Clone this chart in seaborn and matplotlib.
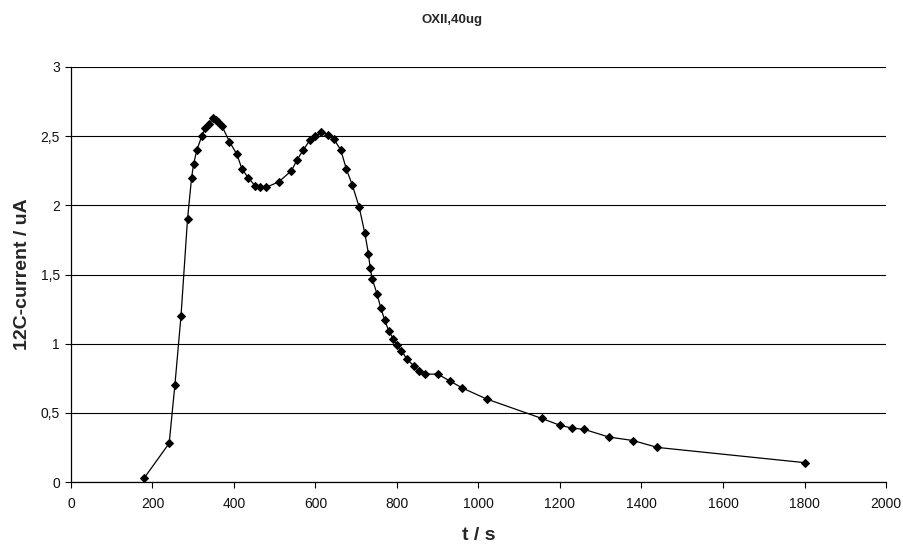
import matplotlib
matplotlib.use("Agg")
import matplotlib.pyplot as plt
import seaborn as sns
import pandas as pd
from matplotlib.ticker import FuncFormatter, MultipleLocator

t_s = [180, 241, 255, 270, 286, 296, 301, 309, 321, 330, 339, 349, 355, 361,
       371, 389, 407, 420, 435, 452, 465, 479, 510, 541, 555, 570, 586, 600,
       614, 631, 645, 662, 676, 690, 707, 721, 730, 734, 739, 751, 760, 770,
       780, 791, 801, 811, 824, 841, 855, 869, 900, 930, 960, 1020, 1155,
       1200, 1229, 1260, 1320, 1379, 1439, 1800]
current_uA = [0.03, 0.28, 0.70, 1.20, 1.90, 2.20, 2.30, 2.40, 2.50, 2.56, 2.59,
              2.63, 2.62, 2.60, 2.57, 2.46, 2.37, 2.26, 2.20, 2.14, 2.13, 2.13,
              2.17, 2.25, 2.33, 2.40, 2.47, 2.50, 2.53, 2.51, 2.48, 2.40, 2.26,
              2.15, 1.99, 1.80, 1.65, 1.55, 1.47, 1.36, 1.26, 1.17, 1.09, 1.035,
              0.99, 0.95, 0.89, 0.84, 0.80, 0.78, 0.78, 0.73, 0.68, 0.60, 0.46,
              0.41, 0.39, 0.38, 0.325, 0.30, 0.25, 0.14]

title = "OXII,40ug"
x_label = "t / s"
y_label = "12C-current / uA"

df = pd.DataFrame({"t": t_s, "I": current_uA})

sns.set_style("white")
plt.rcParams["font.family"] = ["Liberation Sans", "DejaVu Sans"]

fig = plt.figure(figsize=(9.04, 5.46), dpi=100)
ax = fig.add_axes([0.0785, 0.1172, 0.9016, 0.7601])

sns.lineplot(data=df, x="t", y="I", ax=ax, color="black", linewidth=0.9,
             marker="D", markersize=4.2, markeredgecolor="black",
             markerfacecolor="black", sort=False)

ax.set_xlim(0, 2000)
ax.set_ylim(0, 3)
ax.xaxis.set_major_locator(MultipleLocator(200))
ax.yaxis.set_major_locator(MultipleLocator(0.5))
ax.yaxis.set_major_formatter(FuncFormatter(lambda v, p: (f"{v:g}").replace(".", ",")))

ax.grid(axis="y", color="black", linewidth=0.8)
ax.grid(axis="x", visible=False)
ax.set_axisbelow(True)
for side in ["top", "right"]:
    ax.spines[side].set_visible(False)
for side in ["left", "bottom"]:
    ax.spines[side].set_color("black")
    ax.spines[side].set_linewidth(0.9)

ax.tick_params(axis="both", which="major", direction="out", length=4,
               width=0.8, color="black", labelsize=10, labelcolor="#111111",
               bottom=True, left=True)
ax.tick_params(axis="x", pad=7)
ax.tick_params(axis="y", pad=4)

ax.set_xlabel(x_label, fontsize=14, fontweight="bold", labelpad=11)
ax.set_ylabel(y_label, fontsize=14, fontweight="bold", labelpad=7)
fig.suptitle(title, fontsize=9.5, fontweight="bold", y=0.975)

fig.savefig("out.png", dpi=100)
